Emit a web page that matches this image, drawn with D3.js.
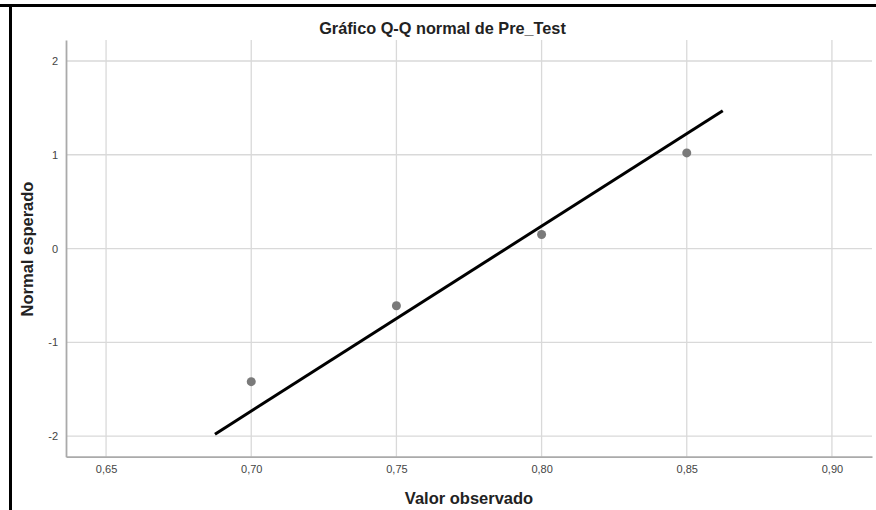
<!DOCTYPE html>
<html><head><meta charset="utf-8">
<script src="https://cdn.jsdelivr.net/npm/d3@7"></script>
<style>html,body{margin:0;padding:0;background:#fff;} svg{display:block;}</style>
</head><body>
<svg id="c" width="876" height="510"></svg>
<script>
const title = "Gráfico Q-Q normal de Pre_Test";
const xLabel = "Valor observado";
const yLabel = "Normal esperado";
const observed = [0.70, 0.75, 0.80, 0.85];
const expected = [-1.42, -0.61, 0.15, 1.02];
const lineX = [0.6875, 0.8624];
const lineY = [-1.98, 1.47];
const xTicks = [0.65, 0.70, 0.75, 0.80, 0.85, 0.90];
const yTicks = [-2, -1, 0, 1, 2];

const svg = d3.select("#c");
const pL = 66, pR = 872, pT = 40, pB = 456.7;
const x = d3.scaleLinear().domain([0.6362, 0.9138]).range([pL, pR]);
const y = d3.scaleLinear().domain([-2.22, 2.224]).range([pB, pT]);
const fmt = d => d.toFixed(2).replace(".", ",");

// frame
svg.append("line").attr("x1",0).attr("x2",876).attr("y1",5.5).attr("y2",5.5).attr("stroke","#000").attr("stroke-width",3);
svg.append("line").attr("x1",10.5).attr("x2",10.5).attr("y1",4).attr("y2",510).attr("stroke","#000").attr("stroke-width",3);

// grid
svg.append("g").selectAll("line").data(xTicks).join("line")
  .attr("x1",d=>x(d)).attr("x2",d=>x(d)).attr("y1",pT).attr("y2",pB)
  .attr("stroke","#d9d9d9").attr("stroke-width",1.3);
svg.append("g").selectAll("line").data(yTicks).join("line")
  .attr("x1",pL).attr("x2",pR).attr("y1",d=>y(d)).attr("y2",d=>y(d))
  .attr("stroke","#d9d9d9").attr("stroke-width",1.3);

// axes
const xa = svg.append("g").attr("transform",`translate(0,${pB})`)
  .call(d3.axisBottom(x).tickValues(xTicks).tickFormat(fmt).tickSize(0).tickPadding(9));
const ya = svg.append("g").attr("transform",`translate(${pL},0)`)
  .call(d3.axisLeft(y).tickValues(yTicks).tickFormat(d => String(d)).tickSize(0).tickPadding(8));
[xa, ya].forEach(g => {
  g.select(".domain").attr("stroke","#aaaaaa").attr("stroke-width",1.8);
  g.selectAll("text").attr("fill","#444").style("font-family","'Liberation Sans', Arial, sans-serif").style("font-size","11px");
});

// fit line
svg.append("line")
  .attr("x1",x(lineX[0])).attr("y1",y(lineY[0]))
  .attr("x2",x(lineX[1])).attr("y2",y(lineY[1]))
  .attr("stroke","#000").attr("stroke-width",3);

// points
svg.append("g").selectAll("circle").data(observed).join("circle")
  .attr("cx",d=>x(d)).attr("cy",(d,i)=>y(expected[i])).attr("r",4.5)
  .attr("fill","#7a7a7a");

// titles
const font = "'Liberation Sans', Arial, sans-serif";
svg.append("text").attr("x",442.5).attr("y",34).attr("text-anchor","middle")
  .style("font-family",font).style("font-weight","bold").style("font-size","16.3px").attr("fill","#222").text(title);
svg.append("text").attr("x",469).attr("y",504).attr("text-anchor","middle")
  .style("font-family",font).style("font-weight","bold").style("font-size","16.5px").attr("fill","#222").text(xLabel);
svg.append("text").attr("transform","translate(33,249) rotate(-90)").attr("text-anchor","middle")
  .style("font-family",font).style("font-weight","bold").style("font-size","16.5px").attr("fill","#222").text(yLabel);
</script>
</body></html>
